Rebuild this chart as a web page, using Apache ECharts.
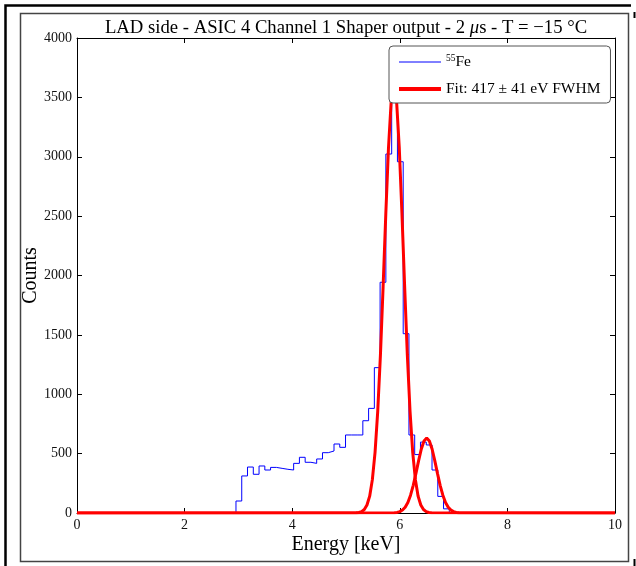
<!DOCTYPE html>
<html>
<head>
<meta charset="utf-8">
<script src="https://cdn.jsdelivr.net/npm/echarts@6/dist/echarts.min.js"></script>
<style>
html,body{margin:0;padding:0;background:#fff;}
#chart{width:636px;height:566px;}
</style>
</head>
<body>
<div id="chart"></div>
<script>
// Histogram bin edges (keV) and counts
var binEdges = [2.955, 3.062, 3.169, 3.277, 3.384, 3.491, 3.598, 3.705, 3.812, 3.920,
  4.027, 4.134, 4.241, 4.348, 4.455, 4.563, 4.670, 4.777, 4.884, 4.991,
  5.098, 5.206, 5.313, 5.420, 5.527, 5.634, 5.741, 5.849, 5.956, 6.063,
  6.170, 6.277, 6.384, 6.492, 6.599, 6.706, 6.813, 6.920];
var binCounts = [101, 312, 387, 326, 396, 362, 384, 376, 368, 362,
  418, 469, 427, 418, 455, 508, 522, 581, 553, 657,
  657, 657, 777, 881, 1224, 1943, 3023, 3632, 2958, 1510,
  657, 492, 597, 573, 362, 140, 35];

// Fit curve 1 (main peak) sampled points [keV, counts]
var fit1X = [0, 5.19, 5.24, 5.29, 5.34, 5.39, 5.44, 5.49, 5.54, 5.59, 5.64, 5.69, 5.74, 5.79, 5.84, 5.89,
  5.94, 5.99, 6.04, 6.09, 6.14, 6.19, 6.24, 6.29, 6.34, 6.39, 6.44, 6.49, 6.54, 6.59, 10];
var fit1Y = [0, 1.5, 4.3, 11.5, 29, 67, 142, 281, 511, 858, 1331, 1907, 2521, 3078, 3469, 3610,
  3469, 3078, 2521, 1907, 1331, 858, 511, 281, 142, 67, 29, 11.5, 4.3, 1.5, 0];
// Fit curve 2 (second peak)
var fit2X = [0, 5.90, 5.95, 6.00, 6.05, 6.10, 6.15, 6.20, 6.25, 6.30, 6.35, 6.40, 6.45, 6.50,
  6.55, 6.60, 6.65, 6.70, 6.75, 6.80, 6.85, 6.90, 6.95, 7.00, 7.05, 7.10, 10];
var fit2Y = [0, 2, 5, 11.7, 25, 49, 89, 150, 233, 334, 441, 539, 607, 632,
  607, 539, 441, 334, 233, 150, 89, 49, 25, 11.7, 5, 2, 0];

var xTicks = [0, 2, 4, 6, 8, 10];
var yTicks = [0, 500, 1000, 1500, 2000, 2500, 3000, 3500, 4000];

var titleText = 'LAD side - ASIC 4 Channel 1 Shaper output - 2 {it|μ}s - T = −15 °C';
var feName = '55Fe';
var fitName = 'Fit: 417 ± 41 eV FWHM';

// build step outline from the histogram arrays
var histData = [[binEdges[0], 0]];
for (var i = 0; i < binCounts.length; i++) {
  histData.push([binEdges[i], binCounts[i]]);
  histData.push([binEdges[i + 1], binCounts[i]]);
}
histData.push([binEdges[binEdges.length - 1], 0]);

function pairs(xs, ys) { return xs.map(function (x, k) { return [x, ys[k]]; }); }

var FONT = '"Liberation Serif", "DejaVu Serif", serif';
var chart = echarts.init(document.getElementById('chart'), null, {renderer: 'canvas'});
function axisCommon(extra) {
  return Object.assign({
    axisLine: {show: true, onZero: false, lineStyle: {color: '#000', width: 1}},
    axisTick: {show: true, inside: true, length: 5, lineStyle: {color: '#000', width: 1}},
    splitLine: {show: false}
  }, extra);
}
chart.setOption({
  animation: false,
  backgroundColor: '#fff',
  title: {
    text: titleText,
    left: 341, top: 14, textAlign: 'center',
    textStyle: {fontFamily: FONT, fontSize: 18.7, fontWeight: 'normal', color: '#000',
      rich: {it: {fontFamily: FONT, fontSize: 18.7, fontStyle: 'italic', color: '#000'}}}
  },
  grid: {left: 77, top: 38, right: 21, bottom: 53, containLabel: false},
  legend: {
    orient: 'vertical', left: 389, top: 46,
    padding: [7, 10, 6, 8], itemGap: 11, itemWidth: 42, itemHeight: 14,
    borderColor: '#555', borderWidth: 1, borderRadius: 4, backgroundColor: '#fff',
    itemStyle: {opacity: 0},
    data: [
      {name: feName, lineStyle: {width: 1}, itemStyle: {opacity: 0}},
      {name: fitName, lineStyle: {width: 4}, itemStyle: {opacity: 0}}
    ],
    formatter: function (n) { return n === feName ? '{sup|55}{b|Fe}' : '{b|' + n + '}'; },
    textStyle: {fontFamily: FONT, fontSize: 15.5, color: '#000',
      rich: {sup: {fontFamily: FONT, fontSize: 9.5, padding: [0, 0, 8, 0], color: '#000'},
             b: {fontFamily: FONT, fontSize: 15.5, color: '#000'}}}
  },
  xAxis: [
    axisCommon({type: 'value', min: xTicks[0], max: xTicks[xTicks.length - 1], interval: 2,
      position: 'bottom',
      name: 'Energy [keV]', nameLocation: 'middle', nameGap: 22, nameMoveOverlap: false,
      nameTextStyle: {fontFamily: FONT, fontSize: 20, color: '#000'},
      axisLabel: {fontFamily: FONT, fontSize: 14, color: '#111', margin: 5,
        formatter: function (v) { return String(v); }}}),
    axisCommon({type: 'value', min: xTicks[0], max: xTicks[xTicks.length - 1], interval: 2,
      position: 'top', axisLabel: {show: false}})
  ],
  yAxis: [
    axisCommon({type: 'value', min: yTicks[0], max: yTicks[yTicks.length - 1], interval: 500,
      position: 'left',
      name: 'Counts', nameLocation: 'middle', nameGap: 36, nameRotate: 90, nameMoveOverlap: false,
      nameTextStyle: {fontFamily: FONT, fontSize: 20, color: '#000'},
      axisLabel: {fontFamily: FONT, fontSize: 14, color: '#111', margin: 5,
        formatter: function (v) { return String(v); }}}),
    axisCommon({type: 'value', min: yTicks[0], max: yTicks[yTicks.length - 1], interval: 500,
      position: 'right', axisLabel: {show: false}})
  ],
  series: [
    {name: feName, type: 'line', data: histData, symbol: 'none', showSymbol: false, z: 2,
      lineStyle: {color: '#0000ff', width: 1}, itemStyle: {color: '#0000ff'}},
    {name: fitName, type: 'line', data: pairs(fit1X, fit1Y), symbol: 'none', showSymbol: false, z: 3,
      lineStyle: {color: '#ff0000', width: 3}, itemStyle: {color: '#ff0000'}},
    {name: fitName, type: 'line', data: pairs(fit2X, fit2Y), symbol: 'none', showSymbol: false, z: 3,
      lineStyle: {color: '#ff0000', width: 3}, itemStyle: {color: '#ff0000'}}
  ],
  graphic: [
    {type: 'polyline', shape: {points: [[5.5, 566], [5.5, 5.5], [631, 5.5]]},
      style: {stroke: '#000', lineWidth: 2.5, fill: null}, silent: true},
    {type: 'line', shape: {x1: 634.5, y1: 12, x2: 634.5, y2: 18},
      style: {stroke: '#000', lineWidth: 2}, silent: true},
    {type: 'line', shape: {x1: 634.5, y1: 559, x2: 634.5, y2: 566},
      style: {stroke: '#000', lineWidth: 2}, silent: true},
    {type: 'rect', shape: {x: 20.5, y: 13.5, width: 608, height: 548},
      style: {stroke: '#444', lineWidth: 1.5, fill: null}, silent: true, z: -1}
  ]
});
</script>
</body>
</html>
